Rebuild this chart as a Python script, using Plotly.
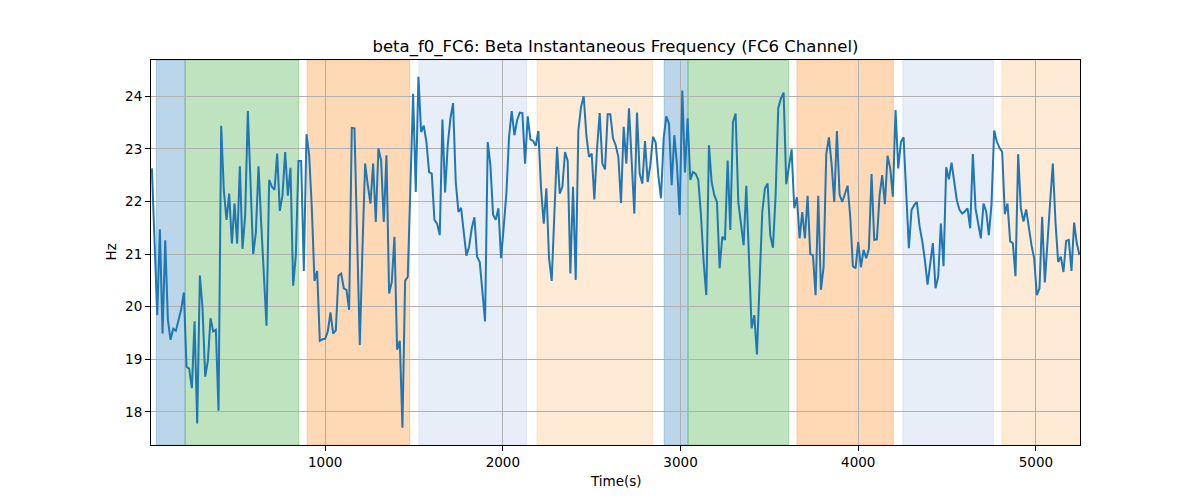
import plotly.graph_objects as go

# ---- data ----
t_start = 25      # first sample time (s)
t_step = 15       # sampling interval (s)

freq_hz = [
    22.63, 21.3, 19.84, 21.47, 19.49, 21.26, 19.75, 19.37, 19.58, 19.54,
    19.72, 19.95, 20.27, 18.86, 18.82, 18.45, 19.72, 17.78, 20.59, 19.97,
    18.67, 18.97, 19.78, 19.53, 19.56, 18.02, 23.44, 22.2, 21.65, 22.15,
    21.2, 21.96, 21.2, 22.67, 21.1, 21.74, 23.72, 22.37, 21.0, 21.4,
    22.67, 21.6, 20.5, 19.64,
    22.41, 22.28, 22.22, 22.91, 21.82, 22.12, 22.94, 22.11, 22.64, 20.4,
    20.98, 22.77, 22.77, 20.68, 23.28, 22.88, 21.87, 20.49, 20.68, 19.35,
    19.38, 19.39, 19.53, 19.89, 19.49, 19.55, 20.59, 20.63, 20.35, 20.32,
    19.94, 23.4, 23.39, 21.36, 19.27, 21.1, 22.72, 22.31, 21.96, 22.72,
    21.61, 23.01, 22.78, 21.61,
    22.88, 20.25, 20.47, 21.33, 19.18, 19.35, 17.70, 20.49, 20.57, 22.3,
    24.05, 22.18, 24.37, 23.32, 23.44, 23.13, 22.56, 22.53, 21.65, 21.58,
    21.36, 23.56, 22.17, 23.07, 23.58, 23.87, 22.37, 21.8, 21.88, 21.42,
    20.97, 21.14, 21.49, 21.7, 20.95, 20.85, 20.35, 19.72, 23.13, 22.69,
    21.75, 21.65, 21.87, 20.92,
    21.52, 22.16, 23.23, 23.72, 23.26, 23.54, 23.69, 23.68, 22.72, 23.62,
    23.18, 23.15, 23.06, 23.34, 22.25, 21.58, 22.25, 20.92, 20.49, 21.61,
    23.04, 22.15, 22.28, 22.94, 22.77, 20.63, 22.28, 20.51, 23.35, 23.8,
    24.0, 23.26, 22.85, 22.91, 22.04, 23.0, 23.68, 22.72, 22.61, 23.66,
    23.66, 23.2,
    23.07, 22.85, 21.97, 23.42, 22.72, 23.77, 22.75, 21.77, 23.69, 22.53,
    22.34, 23.15, 22.37, 22.69, 23.23, 23.12, 22.5, 22.06, 23.2, 23.62,
    23.48, 22.31, 23.26, 22.69, 21.74, 24.11, 22.55, 23.58, 22.41, 22.56,
    22.53, 22.41, 21.74, 20.85, 20.22, 23.07, 22.37, 22.12, 21.99, 20.73,
    21.33, 21.27, 22.78, 21.46, 23.51, 23.67,
    21.99, 21.55, 21.17, 22.3, 21.1, 19.59, 19.84, 19.09, 20.47, 21.8,
    22.25, 22.34, 21.36, 21.12, 22.12, 23.78, 23.96,
    24.07, 22.33, 22.69, 22.99, 21.87, 22.08, 21.3, 21.8, 21.3, 22.11,
    21.0, 20.98, 20.22, 22.11, 20.32, 20.75, 22.9, 23.22, 22.72, 21.99,
    23.34, 22.13, 21.99, 22.14, 22.3, 21.71, 20.77, 20.73, 21.23, 20.75,
    21.08, 20.92, 21.1, 22.52, 21.27, 21.28, 22.11, 22.5, 21.95, 22.87,
    22.63, 22.09, 23.74, 22.63, 23.13, 23.22, 22.22, 21.11, 21.84, 21.93,
    21.99, 21.53, 21.25, 20.89, 20.42, 20.77, 21.21, 20.35, 20.57, 21.58,
    20.77, 22.65, 22.42, 22.74, 22.36, 22.02, 21.84, 21.77, 21.81, 21.87,
    21.49, 22.9, 21.87, 21.56, 21.3, 21.96, 21.81, 21.36, 21.95, 23.35,
    23.14, 23.02, 22.94, 21.76, 21.96, 21.24, 21.21, 20.58, 22.9,
    21.87, 21.62, 21.85, 21.49, 21.17, 20.92, 20.22, 20.35, 21.71, 20.46,
    21.33, 21.99, 22.72, 21.61, 20.85, 20.95, 20.66, 21.25, 21.27, 20.68,
    21.6, 21.2, 20.98,
]
time_s = [t_start + t_step * i for i in range(len(freq_hz))]

# shaded segments (start, end, colour)
span_start = [50, 212, 899, 1527, 2192, 2908, 3042, 3655, 4251, 4809]
span_end = [212, 852, 1476, 2134, 2843, 3042, 3608, 4198, 4761, 5300]
span_color = [
    "rgba(31,119,180,0.3)", "rgba(44,160,44,0.3)", "rgba(255,127,14,0.3)",
    "rgba(174,199,232,0.3)", "rgba(255,187,120,0.3)",
    "rgba(31,119,180,0.3)", "rgba(44,160,44,0.3)", "rgba(255,127,14,0.3)",
    "rgba(174,199,232,0.3)", "rgba(255,187,120,0.3)",
]

x_range = [20, 5248]
y_range = [17.37, 24.69]
x_ticks = [1000, 2000, 3000, 4000, 5000]
y_ticks = [18, 19, 20, 21, 22, 23, 24]

title_text = "beta_f0_FC6: Beta Instantaneous Frequency (FC6 Channel)"

FONT = "DejaVu Sans"

fig = go.Figure()
fig.add_trace(go.Scatter(
    x=time_s, y=freq_hz, mode="lines",
    line=dict(color="#1f77b4", width=2),
    showlegend=False, hoverinfo="x+y",
))

for s, e, c in zip(span_start, span_end, span_color):
    fig.add_shape(type="rect", xref="x", yref="paper",
                  x0=s, x1=e, y0=0, y1=1,
                  fillcolor=c, line=dict(color=c, width=1), layer="below")

axis_common = dict(
    showgrid=True, gridcolor="#b0b0b0", gridwidth=1,
    showline=True, linecolor="black", linewidth=1, mirror=True,
    ticks="outside", ticklen=5, tickwidth=1, tickcolor="black",
    zeroline=False,
    tickfont=dict(family=FONT, size=13.5, color="black"),
)

fig.update_xaxes(range=x_range, tickvals=x_ticks,
                 ticktext=[str(v) for v in x_ticks], **axis_common)
fig.update_yaxes(range=y_range, tickvals=y_ticks,
                 ticktext=[str(v) for v in y_ticks], **axis_common)

fig.update_layout(
    width=1200, height=500,
    margin=dict(l=151, r=120, t=60, b=55, pad=0),
    paper_bgcolor="white", plot_bgcolor="white",
    font=dict(family=FONT, color="black"),
    title=dict(text=title_text, x=615.5 / 1200, xanchor="center",
               y=1 - 46 / 500, yanchor="middle", yref="container",
               font=dict(family=FONT, size=16.5, color="black")),
    annotations=[
        dict(text="Time(s)", xref="paper", yref="paper",
             x=0.5, y=(445 - 481) / 385, xanchor="center", yanchor="middle",
             showarrow=False, font=dict(family=FONT, size=13.5, color="black")),
        dict(text="Hz", xref="paper", yref="paper",
             x=(110 - 151) / 929, y=0.5, xanchor="center", yanchor="middle",
             textangle=-90, showarrow=False,
             font=dict(family=FONT, size=13.5, color="black")),
    ],
)

fig.write_html("out.html",
               config={"displayModeBar": False},
               post_script="document.body.style.margin='0';"
                           "document.body.style.overflow='hidden';")
